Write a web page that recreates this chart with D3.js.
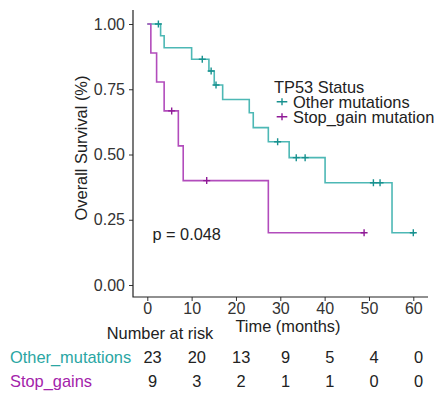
<!DOCTYPE html>
<html>
<head>
<meta charset="utf-8">
<script src="https://cdn.jsdelivr.net/npm/d3@7"></script>
<style>
  body { margin: 0; background: #fff; }
  svg text { font-family: "Liberation Sans", Arial, sans-serif; }
</style>
</head>
<body>
<div id="chart"></div>
<script>
// Kaplan-Meier steps
const otherTimes = [0, 3.0, 3.8, 10.0, 13.9, 15.1, 17.0, 23.0, 23.9, 27.3, 32.0, 40.1, 55.2, 60.4];
const otherSurv = [1, 0.955, 0.909, 0.865, 0.820, 0.766, 0.711, 0.660, 0.603, 0.549, 0.488, 0.392, 0.200, 0.200];
const otherCensor = [2.5, 12.4, 14.4, 15.5, 29.4, 33.6, 35.6, 51.0, 52.5, 60.0];

const stopTimes = [0, 0.8, 2.1, 3.8, 7.0, 8.1, 27.3, 48.9];
const stopSurv = [1, 0.889, 0.778, 0.667, 0.533, 0.400, 0.200, 0.200];
const stopCensor = [5.5, 13.4, 48.9];

// risk table
const riskTimes = [0, 10, 20, 30, 40, 50, 60];
const riskOther = [23, 20, 13, 9, 5, 4, 0];
const riskStop = [9, 3, 2, 1, 1, 0, 0];

const xTicks = [0, 10, 20, 30, 40, 50, 60];
const yTicks = [0, 0.25, 0.5, 0.75, 1];

const teal = "#4db8b5", tealDark = "#18918f", tealText = "#2aa6a3";
const purple = "#b24cbc", purpleDark = "#8f1a96", purpleText = "#a322aa";

const svg = d3.select("#chart").append("svg")
  .attr("width", 437)
  .attr("height", 394);

const x = d3.scaleLinear().domain([0, 60]).range([147.3, 413.3]);
const y = d3.scaleLinear().domain([0, 1]).range([285, 24]);

// axes
const yAxis = svg.append("g")
  .attr("transform", "translate(133,0)")
  .call(d3.axisLeft(y).tickValues(yTicks).tickFormat(d3.format(".2f")).tickSize(4).tickPadding(4));
const xAxis = svg.append("g")
  .attr("transform", "translate(0,297)")
  .call(d3.axisBottom(x).tickValues(xTicks).tickSize(4).tickPadding(2));

[yAxis, xAxis].forEach(g => {
  g.select(".domain").remove();
  g.selectAll("line").attr("stroke", "#333");
  g.selectAll("text").attr("fill", "#333").attr("font-size", "16px");
});

svg.append("path")
  .attr("d", "M133,10V297H428")
  .attr("fill", "none")
  .attr("stroke", "#222")
  .attr("stroke-width", 1.2);

// curves
const line = d3.line()
  .x(d => x(d[0]))
  .y(d => y(d[1]))
  .curve(d3.curveStepAfter);

function survAt(times, surv, t) {
  const i = d3.bisectRight(times, t) - 1;
  return surv[Math.max(0, i)];
}

function drawCurve(times, surv, censor, col, dark) {
  svg.append("path")
    .datum(d3.zip(times, surv))
    .attr("fill", "none")
    .attr("stroke", col)
    .attr("stroke-width", 1.6)
    .attr("d", line);

  svg.append("g").selectAll("path")
    .data(censor)
    .enter()
    .append("path")
    .attr("transform", t => `translate(${x(t)},${y(survAt(times, surv, t))})`)
    .attr("d", "M-3.5,0H3.5M0,-3.5V3.5")
    .attr("stroke", dark)
    .attr("stroke-width", 1.4);
}

drawCurve(otherTimes, otherSurv, otherCensor, teal, tealDark);
drawCurve(stopTimes, stopSurv, stopCensor, purple, purpleDark);

// axis titles
svg.append("text")
  .attr("transform", "translate(87,148) rotate(-90)")
  .attr("text-anchor", "middle")
  .attr("font-size", "16.4px")
  .attr("fill", "#222")
  .text("Overall Survival (%)");

svg.append("text")
  .attr("x", 288)
  .attr("y", 332)
  .attr("text-anchor", "middle")
  .attr("font-size", "16.4px")
  .attr("fill", "#222")
  .text("Time (months)");

// p-value
svg.append("text")
  .attr("x", 152.5)
  .attr("y", 240)
  .attr("font-size", "16.3px")
  .attr("fill", "#222")
  .text("p = 0.048");

// legend
const legend = svg.append("g");
legend.append("text")
  .attr("x", 274)
  .attr("y", 93)
  .attr("font-size", "16.4px")
  .attr("fill", "#222")
  .text("TP53 Status");

const legendItems = [
  { label: "Other mutations", col: tealDark, cy: 101.7 },
  { label: "Stop_gain mutation", col: purpleDark, cy: 116.7 }
];
legendItems.forEach(d => {
  legend.append("path")
    .attr("d", `M276.7,${d.cy}H287.3M282,${d.cy - 3.5}V${d.cy + 3.5}`)
    .attr("stroke", d.col)
    .attr("stroke-width", 1.4);
  legend.append("text")
    .attr("x", 293)
    .attr("y", d.cy + 6.5)
    .attr("font-size", "16.4px")
    .attr("fill", "#222")
    .text(d.label);
});

// number at risk table
const xr = d3.scaleLinear().domain([0, 60]).range([152.5, 418.5]);

svg.append("text")
  .attr("x", 160)
  .attr("y", 339)
  .attr("text-anchor", "middle")
  .attr("font-size", "16.4px")
  .attr("fill", "#222")
  .text("Number at risk");

const rows = [
  { name: "Other_mutations", values: riskOther, col: tealText, yb: 363 },
  { name: "Stop_gains", values: riskStop, col: purpleText, yb: 387 }
];
rows.forEach(r => {
  svg.append("text")
    .attr("x", 10)
    .attr("y", r.yb)
    .attr("font-size", "16.4px")
    .attr("fill", r.col)
    .text(r.name);
  svg.append("g").selectAll("text")
    .data(r.values)
    .enter()
    .append("text")
    .attr("x", (d, i) => xr(riskTimes[i]))
    .attr("y", r.yb)
    .attr("text-anchor", "middle")
    .attr("font-size", "16.4px")
    .attr("fill", "#222")
    .text(d => d);
});
</script>
</body>
</html>
